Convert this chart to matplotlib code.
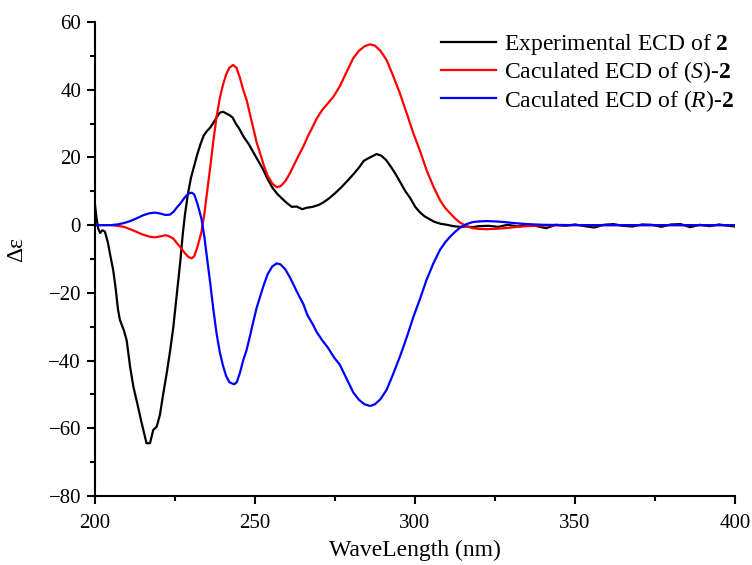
import numpy as np
import matplotlib.pyplot as plt
from matplotlib.ticker import MultipleLocator

plt.rcParams['font.family'] = ['Liberation Serif', 'DejaVu Serif']
plt.rcParams['mathtext.fontset'] = 'custom'
plt.rcParams['mathtext.rm'] = 'Liberation Serif'
plt.rcParams['mathtext.it'] = 'Liberation Serif:italic'
plt.rcParams['mathtext.bf'] = 'Liberation Serif:bold'

# experimental ECD of 2
exp_x = [200, 200.5, 201, 201.6, 202.3, 203.1, 204, 205, 205.7, 206.5, 207.2, 207.8, 209, 209.9,
         211, 212, 213.3, 214.6, 215.5, 216.1, 217.2, 218.2, 219.3, 220.3, 221.3, 222.4, 223.5,
         224.5, 225.5, 226.6, 227.4, 228.1, 229, 230, 231, 232, 233, 234, 235, 236, 237, 238, 239,
         240, 241, 242, 243, 244, 245, 246.5, 248, 249.5, 251, 252.5, 254, 255.5, 257, 258.5, 260,
         261.5, 263, 264.8, 266, 268, 270, 271.5, 273, 275, 277, 279, 281, 282.5, 284, 285.5, 287,
         288, 289.5, 291, 292.5, 294, 295.5, 297, 298.5, 300, 301.5, 303, 304.5, 306, 308, 310, 312,
         314, 316, 318, 320, 323, 326, 329, 332, 335, 338, 341, 344, 347, 350, 353, 356, 359, 362,
         365, 368, 371, 374, 377, 380, 383, 386, 389, 392, 395, 398, 400]
exp_y = [6, 2, -1, -2.3, -1.5, -1.9, -5, -10, -13.3, -19, -25, -28, -31, -34,
         -42, -47.7, -53, -58.5, -62, -64.4, -64.4, -60.5, -59.5, -56, -50, -43.8, -37,
         -30, -21, -11.3, -3, 3, 9, 14, 17.5, 21, 24, 26.5, 27.8, 28.8, 30.2, 31.8, 33.2,
         33.5, 33, 32.5, 31.8, 30, 28.6, 26, 24, 21.5, 19, 16.5, 13.5, 11, 9.2, 7.8, 6.5,
         5.4, 5.5, 4.7, 5.1, 5.4, 6, 6.8, 7.8, 9.4, 11.2, 13.2, 15.3, 17, 19, 19.8, 20.5,
         21, 20.5, 19.2, 17.2, 15, 12.5, 10, 8, 5.5, 3.8, 2.6, 1.8, 1, 0.4, 0.1, -0.3,
         -0.5, -0.4, -0.6, -0.3, -0.2, -0.5, 0.1, -0.4, 0.2, -0.3, -0.9, 0.1, -0.2, 0.2, -0.3,
         -0.7, 0.1, 0.3, -0.2, -0.4, 0.2, 0.1, -0.5, 0.2, 0.3, -0.6, 0.1, -0.3, 0.2, -0.2, -0.4]

# calculated ECD of (S)-2
s_x = [200, 205, 207, 209, 211, 213, 215, 217, 218.8, 220.5, 222, 223, 224.5, 225.5, 226.6, 228,
       229.2, 230.2, 231, 232, 233.3, 234.2, 235, 236, 237, 238, 239, 240, 241, 242, 243.2, 244.2,
       245.3, 246.3, 247.4, 248.5, 249.5, 250.5, 251.6, 252.8, 254, 255.4, 256.8, 258, 259.5,
       260.9, 262.3, 263.7, 265.1, 266.5, 268, 269.3, 271, 272.8, 274.5, 276.5, 278.5, 280.7,
       282.5, 284.2, 285.9, 287.5, 289.2, 291.1, 293, 295.3, 297.5, 299.5, 301.6, 303.6, 305.7,
       307.8, 309.5, 310.9, 312.5, 314, 316.1, 318, 320, 322.4, 325, 328, 331, 335, 340, 350, 400]
s_y = [0, 0, -0.2, -0.5, -1.2, -2, -2.8, -3.4, -3.6, -3.3, -3.0, -3.2, -4, -5.2, -6.4, -8.2,
       -9.4, -9.8, -9.2, -6.5, -1.9, 3.5, 9.5, 17, 25, 32, 37.5, 41.5, 44.5, 46.5, 47.3, 46.5,
       43.5, 40, 36.9, 32.5, 28.5, 24.5, 21.2, 17.5, 14.5, 12.3, 11.2, 11.5, 13,
       15.3, 18, 20.7, 23.2, 26.2, 29, 31.5, 34, 36, 37.9, 41, 45, 49.3,
       51.5, 52.8, 53.4, 53, 51.5, 48.8, 44.5, 38.9, 32.8, 27.1, 21.8, 16.3, 11.5,
       7.4, 5, 3.6, 2, 0.8, -0.3, -0.9, -1.1, -1.2, -1.1, -0.9, -0.6, -0.3, -0.1, 0, 0]

# calculated ECD of (R)-2
r_x = [200, 205, 207, 209, 211, 213, 215, 217, 218.8, 220.5, 222, 223.4, 224.5, 225.5, 226.6, 228,
       229.2, 230.2, 231, 232, 233.3, 234.2, 235, 236, 237, 238, 239, 240, 241, 242, 243.5, 244.3,
       245.3, 246.3, 247.4, 248.5, 249.5, 250.5, 251.6, 252.8, 254, 255.4, 256.8, 258, 259.5,
       260.9, 262.3, 263.7, 265.1, 266.4, 268, 269.3, 271, 272.8, 274.8, 276.5, 278.5, 280.7,
       282.5, 284.2, 286, 287.5, 289.2, 291.1, 293, 295.3, 297.5, 299.5, 301.6, 303.6, 305.7,
       307.8, 309.5, 310.9, 312.5, 314, 316.1, 318, 320, 322.4, 325, 328, 331, 335, 340, 350, 400]
r_y = [0, 0, 0.2, 0.6, 1.2, 2.0, 2.9, 3.5, 3.7, 3.4, 3.0, 3.1, 3.9, 5.1, 6.3, 8.1,
       9.3, 9.6, 9.1, 6.4, 1.8, -3.6, -9.6, -17, -25, -32, -37.5, -41.5, -44.6, -46.4, -47, -46.4,
       -43.6, -40, -36.8, -32.5, -28.4, -24.5, -21.1, -17.5, -14.4, -12.2, -11.3, -11.6, -13.1,
       -15.4, -18.1, -20.8, -23.3, -26.6, -29.2, -31.6, -34, -36.2, -39.2, -41.2, -45.1, -49.4,
       -51.6, -52.9, -53.4, -52.9, -51.4, -48.7, -44.4, -38.8, -32.9, -27.1, -21.7, -16.2, -11.4,
       -7.3, -5, -3.5, -2, -0.8, 0.3, 0.9, 1.1, 1.2, 1.1, 0.9, 0.6, 0.3, 0.1, 0, 0]

fig = plt.figure(figsize=(7.52, 5.65), dpi=100)
ax = fig.add_axes([0.1263, 0.1221, 0.8511, 0.839])

ax.plot(exp_x, exp_y, color='black', lw=1.6, label=r'Experimental ECD of $\mathbf{2}$')
ax.plot(s_x, s_y, color='red', lw=1.6, label=r'Caculated ECD of ($\mathit{S}$)-$\mathbf{2}$')
ax.plot(r_x, r_y, color='blue', lw=1.6, label=r'Caculated ECD of ($\mathit{R}$)-$\mathbf{2}$')

ax.set_xlim(200, 400)
ax.set_ylim(-80, 60)
ax.xaxis.set_major_locator(MultipleLocator(50))
ax.xaxis.set_minor_locator(MultipleLocator(25))
ax.yaxis.set_major_locator(MultipleLocator(20))
ax.yaxis.set_minor_locator(MultipleLocator(10))

ax.spines['top'].set_visible(False)
ax.spines['right'].set_visible(False)
for s in ['left', 'bottom']:
    ax.spines[s].set_linewidth(1.5)
ax.tick_params(which='major', direction='out', length=6, width=1.5, labelsize=15, pad=4)
ax.tick_params(axis='x', which='major', pad=7)
ax.tick_params(which='minor', direction='out', length=3.6, width=1.5)

ax.set_xlabel('WaveLength (nm)', fontsize=17, labelpad=5)
ax.set_ylabel('Δε', fontsize=17)
ax.yaxis.set_label_coords(-0.106, 0.52)

ax.legend(loc='upper right', bbox_to_anchor=(1.024, 1.0137), frameon=False, fontsize=17,
          handlelength=2.33, handletextpad=0.34, labelspacing=0.1, borderpad=0.2)

fig.savefig('out.png', dpi=100)
